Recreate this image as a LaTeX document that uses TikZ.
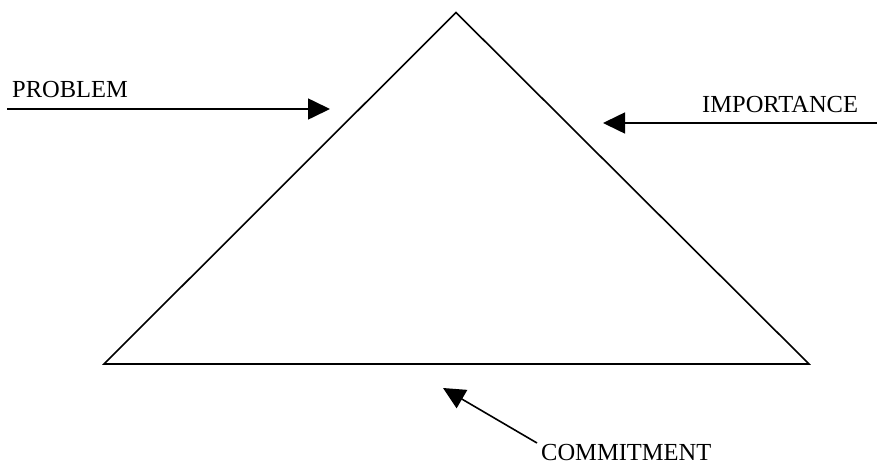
\documentclass[tikz,border=0pt]{standalone}
\usepackage{fontspec}
\setmainfont{Liberation Serif}
\usetikzlibrary{arrows.meta}
\tikzset{
  lbl/.style={anchor=base west, inner sep=0pt, font=\fontsize{24.5}{28}\selectfont},
  edge/.style={line width=1.6pt, line join=miter},
  arr/.style={line width=1.6pt, -{Triangle[length=22pt,width=21pt]}}
}
\begin{document}
\begin{tikzpicture}[x=1pt,y=1pt]
\useasboundingbox[fill=white] (0,0) rectangle (877,-466);
% triangle
\coordinate (apex) at (456,-12.5);
\coordinate (bl) at (104,-364);
\coordinate (br) at (809,-364);
\draw[edge] (apex) -- (bl) -- (br) -- cycle;
% labels
\node[lbl] (problem) at (12,-97) {PROBLEM};
\node[lbl] (importance) at (702,-112) {IMPORTANCE};
\node[lbl] (commitment) at (541,-460) {COMMITMENT};
% arrow ends
\coordinate (p0) at (7,-109);
\coordinate (p1) at (330,-109);
\coordinate (i0) at (877,-123);
\coordinate (i1) at (603,-123);
\coordinate (c0) at (537,-443);
\coordinate (c1) at (443,-388);
\draw[arr] (p0) -- (p1);
\draw[arr] (i0) -- (i1);
\draw[arr] (c0) -- (c1);
\end{tikzpicture}
\end{document}
